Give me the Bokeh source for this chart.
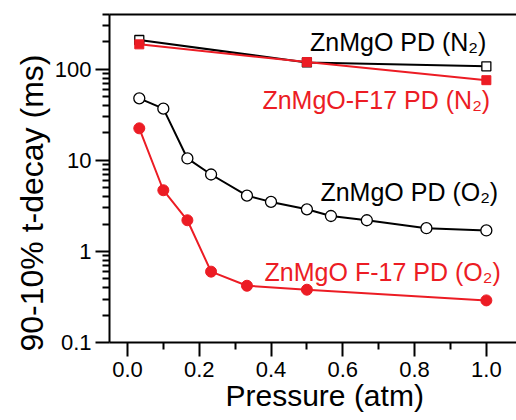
from bokeh.plotting import figure
from bokeh.models import FixedTicker, LinearAxis, Label, PrintfTickFormatter, Range1d, Title
from bokeh.embed import file_html
from bokeh.resources import INLINE

RED = "#ec1c24"
FONT = "Liberation Sans"

# data
x_n2 = [0.033, 0.5, 1.0]
n2_plain = [210, 119, 108]
n2_f17 = [188, 120, 76]

x_o2_plain = [0.033, 0.1, 0.167, 0.233, 0.333, 0.4, 0.5, 0.567, 0.667, 0.833, 1.0]
o2_plain = [48, 37, 10.5, 7.0, 4.1, 3.5, 2.9, 2.45, 2.2, 1.8, 1.7]

x_o2_f17 = [0.033, 0.1, 0.167, 0.233, 0.333, 0.5, 1.0]
o2_f17 = [22.5, 4.7, 2.2, 0.6, 0.42, 0.38, 0.29]

x_ticks = [0.0, 0.2, 0.4, 0.6, 0.8, 1.0]
x_minor = [0.1, 0.3, 0.5, 0.7, 0.9]
y_ticks = [0.1, 1, 10, 100]
y_tick_labels = ["0.1", "1", "10", "100"]
y_minor = [0.2, 0.3, 0.4, 0.5, 0.6, 0.7, 0.8, 0.9,
           2, 3, 4, 5, 6, 7, 8, 9,
           20, 30, 40, 50, 60, 70, 80, 90,
           200, 300, 400]

labels = [
    ("ZnMgO PD (N\u2082)", 1.0, 200, "black"),
    ("ZnMgO-F17 PD  (N\u2082)", 1.03, 46, RED),
    ("ZnMgO PD (O\u2082)", 1.033, 4.5, "black"),
    ("ZnMgO F-17 PD (O\u2082)", 1.04, 0.6, RED),
]
x_title = "Pressure (atm)"
y_title = "90-10% t-decay (ms)"

p = figure(width=516, height=420, y_axis_type="log",
           x_range=Range1d(-0.05, 1.084), y_range=Range1d(0.1, 400),
           output_backend="svg", toolbar_location=None,
           min_border_left=109, min_border_top=14, min_border_bottom=78,
           min_border_right=0)
p.outline_line_color = None
p.grid.visible = False
p.background_fill_color = "white"
p.border_fill_color = "white"

# lines & markers
p.line(x_n2, n2_plain, line_color="black", line_width=2)
p.scatter(x_n2, n2_plain, marker="square", size=9, fill_color="white",
          line_color="black", line_width=1.3)
p.line(x_n2, n2_f17, line_color=RED, line_width=2)
p.scatter(x_n2, n2_f17, marker="square", size=9, fill_color=RED,
          line_color=RED, line_width=1)

p.line(x_o2_plain, o2_plain, line_color="black", line_width=2)
p.scatter(x_o2_plain, o2_plain, marker="circle", size=11, fill_color="white",
          line_color="black", line_width=1.3)
p.line(x_o2_f17, o2_f17, line_color=RED, line_width=2)
p.scatter(x_o2_f17, o2_f17, marker="circle", size=11, fill_color=RED,
          line_color=RED, line_width=1)

for txt, lx, ly, col in labels:
    p.add_layout(Label(x=lx, y=ly, text=txt, text_align="right",
                       text_baseline="alphabetic", text_color=col,
                       text_font=FONT, text_font_size="25px"))

# axes
xa = p.xaxis[0]
xa.ticker = FixedTicker(ticks=x_ticks, minor_ticks=x_minor)
xa.formatter = PrintfTickFormatter(format="%.1f")
ya = p.yaxis[0]
ya.ticker = FixedTicker(ticks=y_ticks, minor_ticks=y_minor)
ya.major_label_overrides = {t: l for t, l in zip(y_ticks, y_tick_labels)}

for ax in (xa, ya):
    ax.axis_line_width = 2
    ax.major_tick_line_width = 2
    ax.minor_tick_line_width = 2
    ax.major_tick_in = 0
    ax.major_tick_out = 14
    ax.minor_tick_in = 0
    ax.minor_tick_out = 7
    ax.major_label_text_font = FONT
    ax.major_label_text_font_size = "22px"
    ax.major_label_text_color = "black"
xa.major_label_standoff = 5
ya.major_label_standoff = 4

top = LinearAxis(ticker=FixedTicker(ticks=[]), axis_line_width=2,
                 major_label_text_font_size="0px", major_tick_out=0,
                 major_tick_in=0, minor_tick_out=0, minor_tick_in=0,
                 major_label_standoff=0)
p.add_layout(top, "above")

# axis titles as side titles so they can be offset from the frame centre
p.add_layout(Title(text=x_title, align="left", offset=116, vertical_align="bottom",
                   standoff=-6, text_font=FONT, text_font_size="30px",
                   text_font_style="normal", text_color="black"), "below")
p.add_layout(Title(text=y_title, align="left", offset=-9, vertical_align="top",
                   standoff=0, text_font=FONT, text_font_size="32px",
                   text_font_style="normal", text_color="black"), "left")

open("out.html", "w").write(file_html(p, INLINE))
